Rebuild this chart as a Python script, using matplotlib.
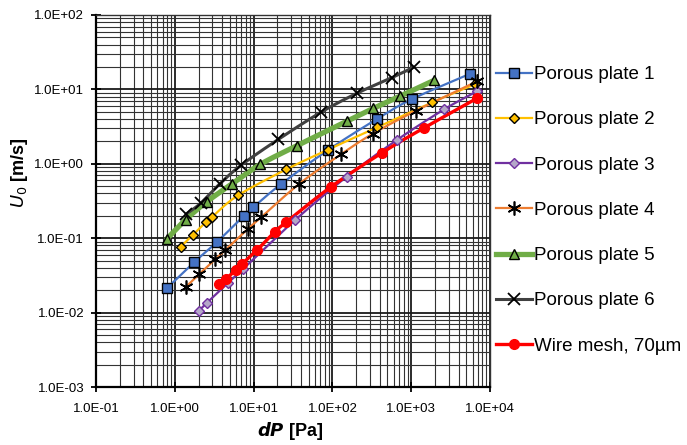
import numpy as np
import matplotlib
matplotlib.use("Agg")
import matplotlib.pyplot as plt
from matplotlib.ticker import FuncFormatter, LogLocator, NullFormatter
from matplotlib.lines import Line2D

plt.rcParams['font.family'] = ['Liberation Sans', 'DejaVu Sans']

# ---- data ----
labels = ["Porous plate 1", "Porous plate 2", "Porous plate 3", "Porous plate 4",
          "Porous plate 5", "Porous plate 6", "Wire mesh, 70\u00b5m"]

pp1_x = [0.79, 1.77, 3.47, 7.5, 9.9, 22.1, 88, 367, 1009, 5500]
pp1_y = [0.0212, 0.0479, 0.0897, 0.200, 0.260, 0.530, 1.53, 4.0, 7.36, 16.1]

pp2_x = [1.19, 1.71, 2.48, 2.99, 6.30, 26.1, 88, 367, 1849, 6500]
pp2_y = [0.0769, 0.1114, 0.165, 0.194, 0.375, 0.843, 1.55, 3.08, 6.71, 11.8]

pp3_x = [2.00, 2.55, 4.68, 7.42, 33.7, 152, 658, 2624, 6830]
pp3_y = [0.0105, 0.0135, 0.0248, 0.0389, 0.176, 0.671, 2.09, 5.40, 9.43]

pp4_x = [1.39, 2.03, 3.27, 4.35, 8.44, 12.4, 38.2, 128, 326, 1148, 6830]
pp4_y = [0.0223, 0.0327, 0.0520, 0.0688, 0.133, 0.190, 0.541, 1.34, 2.54, 5.17, 12.8]

pp5_x = [0.786, 1.37, 2.55, 5.29, 12.1, 35.4, 155, 332, 731, 1942]
pp5_y = [0.0967, 0.177, 0.310, 0.533, 0.979, 1.75, 3.76, 5.57, 8.15, 13.2]

pp6_x = [1.39, 2.12, 3.70, 7.0, 20.6, 71.3, 204, 569, 1070]
pp6_y = [0.211, 0.294, 0.535, 0.964, 2.13, 4.92, 8.86, 14.4, 19.8]

wm_x = [3.65, 4.51, 5.96, 7.14, 11.07, 18.6, 25.7, 96.4, 428, 1449, 6830]
wm_y = [0.0241, 0.0287, 0.0374, 0.0450, 0.0694, 0.122, 0.163, 0.492, 1.41, 3.03, 7.59]

xs = [pp1_x, pp2_x, pp3_x, pp4_x, pp5_x, pp6_x, wm_x]
ys = [pp1_y, pp2_y, pp3_y, pp4_y, pp5_y, pp6_y, wm_y]

# ---- styles ----
styles = [
    dict(color="#4472C4", lw=1.6, marker="s", ms=6.5, mfc="#4472C4", mec="black", mew=1.0),
    dict(color="#FFC000", lw=1.6, marker="D", ms=5.5, mfc="#FFC000", mec="black", mew=1.0),
    dict(color="#7030A0", lw=1.6, marker="D", ms=5.5, mfc="#B4A7C8", mec="#7030A0", mew=1.0),
    dict(color="#ED7D31", lw=1.6, marker=(6, 2, 0), ms=10, mfc="black", mec="black", mew=1.2),
    dict(color="#70AD47", lw=3.8, marker="^", ms=7, mfc="#70AD47", mec="black", mew=1.0),
    dict(color="#404040", lw=2.2, marker="x", ms=8, mfc="black", mec="black", mew=1.3),
    dict(color="#FF0000", lw=2.4, marker="o", ms=7, mfc="#FF0000", mec="#FF0000", mew=1.0),
]


def smooth(x, y, n=24):
    """Catmull-Rom curve in log-log space through the data points (like Excel smoothed lines)."""
    lx, ly = np.log10(x), np.log10(y)
    P = np.column_stack([lx, ly])
    P = np.vstack([P[0] - (P[1] - P[0]), P, P[-1] + (P[-1] - P[-2])])
    out = []
    t = np.linspace(0, 1, n)[:, None]
    for i in range(1, len(P) - 2):
        p0, p1, p2, p3 = P[i - 1], P[i], P[i + 1], P[i + 2]
        seg = 0.5 * ((2 * p1) + (-p0 + p2) * t + (2 * p0 - 5 * p1 + 4 * p2 - p3) * t ** 2
                     + (-p0 + 3 * p1 - 3 * p2 + p3) * t ** 3)
        out.append(seg if i == 1 else seg[1:])
    S = np.vstack(out)
    return 10 ** S[:, 0], 10 ** S[:, 1]


fig = plt.figure(figsize=(6.87, 4.45), dpi=100)
ax = fig.add_axes([96 / 687, 1 - 387 / 445, (490 - 96) / 687, (387 - 15) / 445])
ax.set_xscale("log")
ax.set_yscale("log")
ax.set_xlim(0.1, 1e4)
ax.set_ylim(1e-3, 1e2)

# grid
ax.xaxis.set_major_locator(LogLocator(base=10, numticks=10))
ax.yaxis.set_major_locator(LogLocator(base=10, numticks=10))
ax.xaxis.set_minor_locator(LogLocator(base=10, subs=np.arange(2, 10), numticks=100))
ax.yaxis.set_minor_locator(LogLocator(base=10, subs=np.arange(2, 10), numticks=100))
ax.xaxis.set_minor_formatter(NullFormatter())
ax.yaxis.set_minor_formatter(NullFormatter())
ax.grid(True, which="major", color="#1a1a1a", lw=1.3, zorder=0)
ax.grid(True, which="minor", color="#333333", lw=0.8, zorder=0)
ax.set_axisbelow(True)

fmt = FuncFormatter(lambda v, p: f"{v:.1E}")
ax.xaxis.set_major_formatter(fmt)
ax.yaxis.set_major_formatter(fmt)
ax.tick_params(which="major", direction="inout", length=7, width=1.3, labelsize=9.5)
ax.tick_params(axis="x", which="major", pad=8)
ax.tick_params(axis="y", which="major", pad=5)
ax.tick_params(which="minor", length=0)
for s in ["left", "bottom"]:
    ax.spines[s].set_linewidth(1.6)
    ax.spines[s].set_color("black")
for s in ["top", "right"]:
    ax.spines[s].set_linewidth(1.0)
    ax.spines[s].set_color("#333333")

handles = []
for x, y, st, lab in zip(xs, ys, styles, labels):
    sx, sy = smooth(x, y)
    ax.plot(sx, sy, color=st["color"], lw=st["lw"], solid_capstyle="round", zorder=3)
    ax.plot(x, y, ls="none", marker=st["marker"], ms=st["ms"], mfc=st["mfc"],
            mec=st["mec"], mew=st["mew"], zorder=4)
    handles.append(Line2D([], [], color=st["color"], lw=st["lw"], marker=st["marker"],
                          ms=st["ms"], mfc=st["mfc"], mec=st["mec"], mew=st["mew"]))

fig.legend(handles, labels, loc="upper left", bbox_to_anchor=(496 / 687, 1 - 66 / 445),
           frameon=False, fontsize=13.5, handlelength=1.9, handletextpad=0.15,
           labelspacing=1.5, borderpad=0, borderaxespad=0)

fig.text(19 / 687, 1 - 173 / 445, r"$\boldsymbol{U_0}$ [m/s]", rotation=90,
         ha="center", va="center", fontsize=13, fontweight="bold")
fig.text(290 / 687, 1 - 431 / 445, r"$\boldsymbol{dP}$ [Pa]", ha="center", va="center",
         fontsize=13, fontweight="bold")

fig.savefig("out.png", dpi=100)
